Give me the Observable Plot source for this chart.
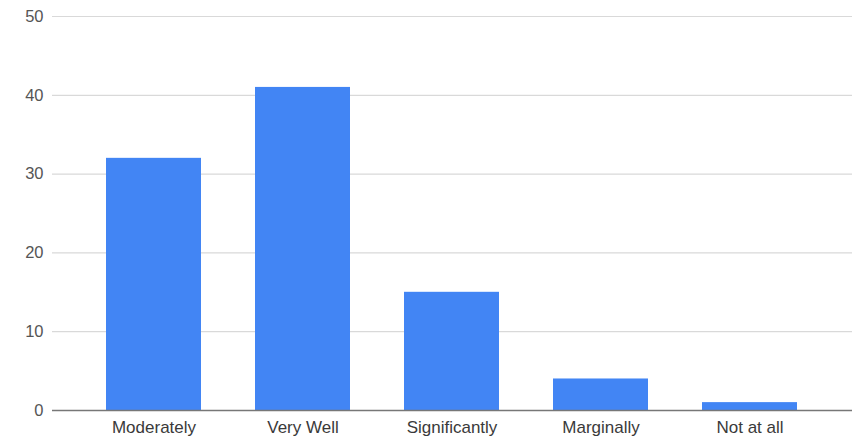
<!DOCTYPE html>
<html>
<head>
<meta charset="utf-8">
<script src="https://cdn.jsdelivr.net/npm/d3@7"></script>
<script src="https://cdn.jsdelivr.net/npm/@observablehq/plot@0.6"></script>
<style>
  html, body { margin: 0; padding: 0; background: #fff; overflow: hidden; }
  #chart svg { display: block; }
</style>
</head>
<body>
<div id="chart"></div>
<script>
const categories = ["Moderately", "Very Well", "Significantly", "Marginally", "Not at all"];
const values = [32, 41, 15, 4, 1];
const yTicks = [0, 10, 20, 30, 40, 50];

const data = categories.map((c, i) => ({category: c, value: values[i]}));

const chart = Plot.plot({
  width: 852,
  height: 441,
  marginLeft: 52,
  marginRight: 0,
  marginTop: 16,
  marginBottom: 31,
  style: {fontFamily: "'Liberation Sans', Arial, sans-serif", fontSize: "16px", color: "#444", background: "#fff"},
  x: {domain: categories, label: null, paddingInner: 0.36, paddingOuter: 0.36},
  y: {domain: [0, 50], label: null},
  marks: [
    Plot.ruleY(yTicks.slice(1), {stroke: "#d9d9d9", strokeWidth: 1.2}),
    Plot.barY(data, {x: "category", y: "value", fill: "#4285F4"}),
    Plot.ruleY([0], {stroke: "#777", strokeWidth: 1.5}),
    Plot.axisY(yTicks, {tickSize: 0, tickPadding: 9, fill: "#555", label: null, fontSize: 16.5}),
    Plot.axisX({tickSize: 0, tickPadding: 10, fill: "#3a3a3a", label: null, fontSize: 17})
  ]
});
document.getElementById("chart").appendChild(chart);
</script>
</body>
</html>
